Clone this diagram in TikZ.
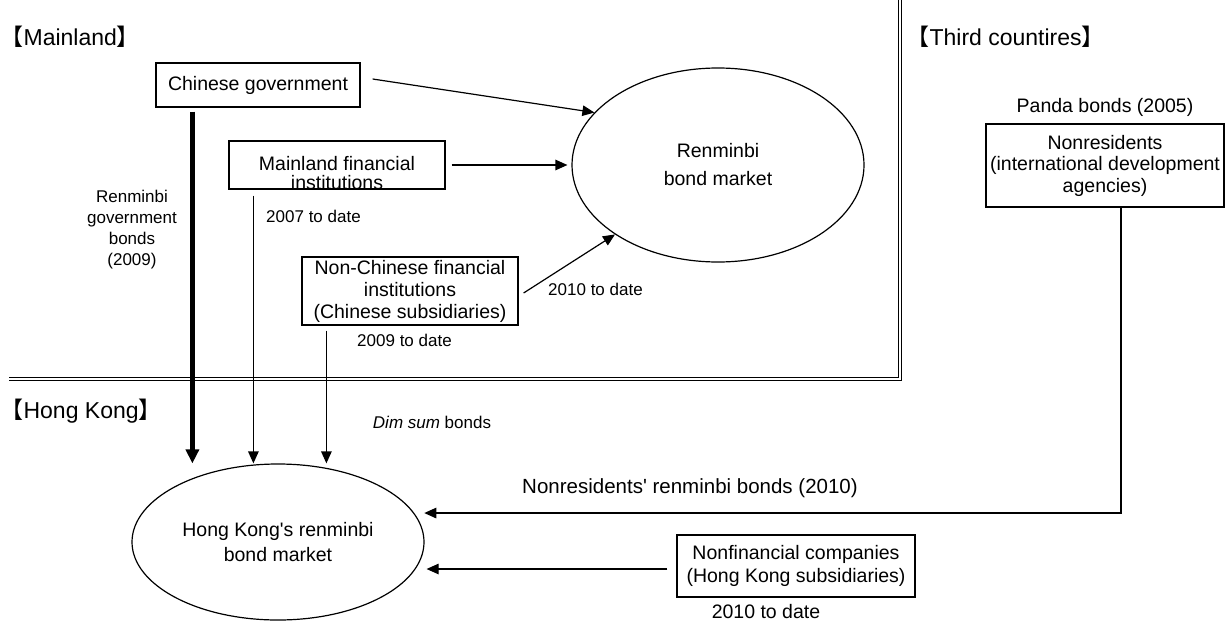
\documentclass[tikz,border=0pt]{standalone}
\usepackage{fontspec}
\setmainfont{Liberation Sans}
\newfontfamily\cjk{Noto Sans CJK SC}
\usetikzlibrary{arrows.meta,shapes.geometric}
\begin{document}
\begin{tikzpicture}[x=1pt,y=-1pt,
  line width=1.2pt,
  big/.style={font=\fontsize{19.5}{22}\selectfont},
  small/.style={font=\fontsize{17}{21}\selectfont},
  head/.style={font=\fontsize{23}{26}\selectfont, anchor=base west, inner sep=0pt},
  boxnode/.style={draw, inner sep=0pt, align=center, big},
  mkt/.style={draw, ellipse, inner sep=0pt, align=center},
  lbl/.style={inner sep=0pt, align=center},
  arr/.style={-{Triangle[length=12pt,width=10.5pt]}},
  thickarr/.style={line width=4.3pt, -{Triangle[length=14pt,width=13pt]}},
  sep/.style={line width=1pt}]
\useasboundingbox (0,0) rectangle (1225,621);

% region separators
\draw[sep] (898,0) -- (898,377) -- (9,377);
\draw[sep] (901,0) -- (901,380) -- (9,380);

% region headings
\node[head] (hml) at (0,45) {{\cjk【}Mainland{\cjk】}};
\node[head] (hhk) at (0,418) {{\cjk【}Hong Kong{\cjk】}};
\node[head] (htc) at (906,45) {{\cjk【}Third countires{\cjk】}};

% boxes
\node[boxnode, minimum width=204pt, minimum height=44pt] (cg) at (258,85) {Chinese government};
\node[draw, inner sep=0pt, minimum width=216pt, minimum height=48pt] (mfi) at (337,165) {};
\node[lbl, font=\fontsize{19.5}{19}\selectfont] (mfit) at (337,173) {Mainland financial\\institutions};
\node[boxnode, font=\fontsize{19.5}{22}\selectfont, minimum width=216pt, minimum height=68pt] (nfi) at (410,291) {Non-Chinese financial\\institutions\\(Chinese subsidiaries)};
\node[boxnode, font=\fontsize{19.5}{21.5}\selectfont, minimum width=238pt, minimum height=83pt] (nr) at (1105,165.5) {Nonresidents\\(international development\\agencies)};
\node[boxnode, font=\fontsize{19.5}{23}\selectfont, minimum width=238pt, minimum height=62pt] (nfc) at (796,566) {Nonfinancial companies\\(Hong Kong subsidiaries)};

% markets
\node[mkt, font=\fontsize{19.5}{28}\selectfont, minimum width=292pt, minimum height=194pt] (rbm) at (718,165) {Renminbi\\bond market};
\node[mkt, font=\fontsize{19.5}{25}\selectfont, minimum width=292pt, minimum height=156pt] (hk) at (278,542) {Hong Kong\textquotesingle s renminbi\\bond market};

% labels
\node[lbl, small] (l2007) at (313.5,216) {2007 to date};
\node[lbl, small] (l2009) at (404.5,340) {2009 to date};
\node[lbl, small] (l2010a) at (595.5,289) {2010 to date};
\node[lbl, font=\fontsize{17}{21}\selectfont] (lgov) at (132,229.5) {Renminbi\\government\\bonds\\(2009)};
\node[lbl, small] (ldim) at (432,422) {\textit{Dim sum} bonds};
\node[lbl, big] (lpanda) at (1105,107) {Panda bonds (2005)};
\node[lbl, font=\fontsize{20.5}{23}\selectfont] (lnrb) at (690,488) {Nonresidents\textquotesingle\ renminbi bonds (2010)};
\node[lbl, big] (l2010b) at (766,612) {2010 to date};

% connectors to the renminbi bond market
\draw[arr] ([xshift=12pt,yshift=6pt]cg.east) -- (rbm.157);
\draw[arr, shorten >=4pt] ([xshift=6pt]mfi.east) -- (rbm.west);
\draw[arr] ([xshift=5pt,yshift=-2pt]nfi.east) -- (rbm.214);

% connectors to Hong Kong market
\coordinate (gstart) at ([xshift=37pt,yshift=-4pt]cg.south west);
\coordinate (mstart) at ([xshift=25pt,yshift=-6pt]mfi.south west);
\coordinate (nstart) at ([xshift=25pt,yshift=-5pt]nfi.south west);
\draw[thickarr] (gstart) -- (gstart |- hk.north);
\draw[arr] (mstart) -- (mstart |- hk.north);
\draw[arr] (nstart) -- (nstart |- hk.north);

\draw[arr, shorten >=10pt] ([xshift=16pt]nr.south) |- (hk.12.5);
\draw[arr, shorten <=9pt, shorten >=2pt] ([yshift=-3pt]nfc.west) -- ([yshift=-3pt]nfc.west -| hk.east);
\end{tikzpicture}
\end{document}
